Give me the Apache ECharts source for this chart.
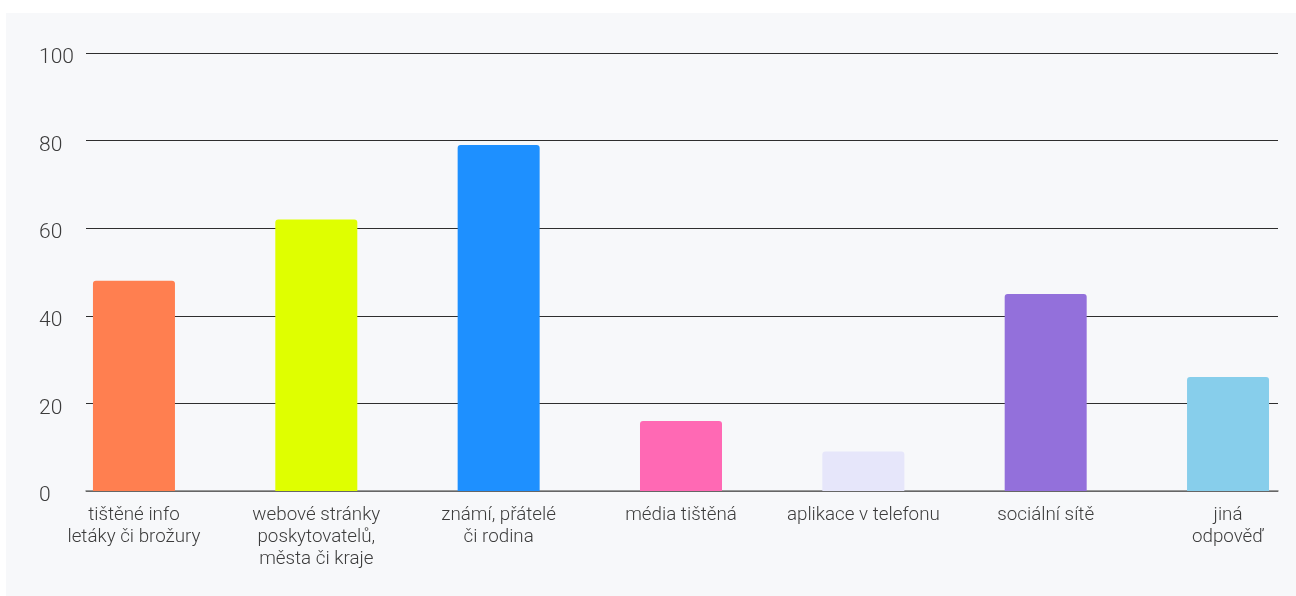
<!DOCTYPE html>
<html>
<head>
<meta charset="utf-8">
<script src="https://cdn.jsdelivr.net/npm/echarts@6/dist/echarts.min.js"></script>
<style>
  html, body { margin: 0; padding: 0; background: #ffffff; }
  #chart { width: 1296px; height: 596px; }
</style>
</head>
<body>
<div id="chart"></div>
<script>
// Zdroje informací – podíl odpovědí (%)
const categories = [
  'tištěné info\nletáky či brožury',
  'webové stránky\nposkytovatelů,\nměsta či kraje',
  'známí, přátelé\nči rodina',
  'média tištěná',
  'aplikace v telefonu',
  'sociální sítě',
  'jiná\nodpověď'
];
const values = [48, 62, 79, 16, 9, 45, 26];
const colors = ['#FF7F50', '#DFFF00', '#1E90FF', '#FF69B4', '#E6E6FA', '#9370DB', '#87CEEB'];
const yTicks = [0, 20, 40, 60, 80, 100];

const chart = echarts.init(document.getElementById('chart'), null, { renderer: 'canvas' });

const positions = categories.map((_, i) => i);

chart.setOption({
  backgroundColor: '#ffffff',
  textStyle: { fontFamily: 'Roboto, sans-serif' },
  graphic: [{
    type: 'rect',
    z: -10,
    shape: { x: 6, y: 13, width: 1290, height: 583 },
    style: { fill: '#f7f8fa' },
    silent: true
  }],
  grid: { left: 86, right: 18, top: 53, bottom: 105 },
  xAxis: {
    type: 'value',
    min: -0.263,
    max: 6.274,
    splitLine: { show: false },
    axisTick: { show: false },
    axisLine: { show: true, onZero: true, lineStyle: { color: '#7a7a7a', width: 1.5 } },
    axisLabel: {
      customValues: positions,
      formatter: v => categories[Math.round(v)] ?? '',
      color: '#3c3c3c',
      fontSize: 18.8,
      fontWeight: 300,
      lineHeight: 22,
      margin: 13,
      align: 'center',
      verticalAlign: 'top'
    }
  },
  yAxis: {
    type: 'value',
    min: yTicks[0],
    max: yTicks[yTicks.length - 1],
    interval: 20,
    axisLine: { show: false },
    axisTick: { show: false },
    splitLine: { show: true, lineStyle: { color: '#2e2e2e', width: 1 } },
    axisLabel: {
      formatter: v => '{t|' + v + '}',
      rich: {
        t: { color: '#3c3c3c', fontSize: 21, fontWeight: 300, padding: [10, 0, 0, 0] }
      },
      align: 'left',
      verticalAlign: 'middle',
      margin: 47
    }
  },
  series: [{
    type: 'bar',
    barWidth: 82,
    data: values.map((v, i) => ({
      value: [positions[i], v],
      itemStyle: { color: colors[i], borderRadius: [3, 3, 0, 0] }
    })),
    z: 3
  }]
});
</script>
</body>
</html>
